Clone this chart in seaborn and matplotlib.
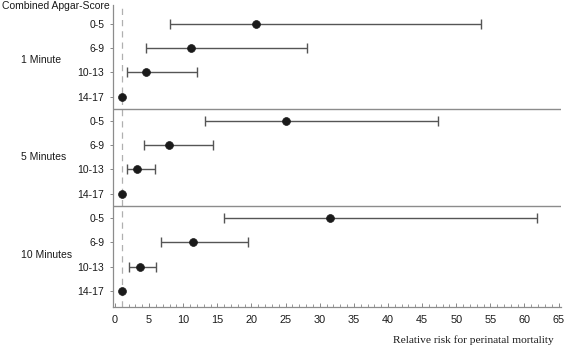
import matplotlib
matplotlib.use("Agg")
import matplotlib.pyplot as plt
import matplotlib.transforms as mtransforms
from matplotlib.ticker import MultipleLocator
import pandas as pd
import seaborn as sns

# Relative risk (point estimate and 95% CI) per Apgar-score group
groups = ["1 Minute", "5 Minutes", "10 Minutes"]
scores = ["0-5", "6-9", "10-13", "14-17"]

rr_1min = [20.6, 11.2, 4.6, 1.0]
lo_1min = [8.0, 4.5, 1.8, 1.0]
hi_1min = [53.7, 28.1, 12.0, 1.0]

rr_5min = [25.0, 7.9, 3.2, 1.0]
lo_5min = [13.2, 4.3, 1.8, 1.0]
hi_5min = [47.3, 14.3, 5.9, 1.0]

rr_10min = [31.5, 11.4, 3.6, 1.0]
lo_10min = [16.0, 6.7, 2.0, 1.0]
hi_10min = [61.9, 19.5, 6.0, 1.0]

rows = []
for g, rr, lo, hi in zip(groups, [rr_1min, rr_5min, rr_10min],
                         [lo_1min, lo_5min, lo_10min],
                         [hi_1min, hi_5min, hi_10min]):
    for s, r, l, h in zip(scores, rr, lo, hi):
        rows.append({"group": g, "score": s, "rr": r, "lo": l, "hi": h})
df = pd.DataFrame(rows)
df["pos"] = range(len(df))

sns.set_style("ticks")
plt.rcParams["font.family"] = ["Liberation Sans", "DejaVu Sans"]

fig = plt.figure(figsize=(5.67, 3.47), dpi=100)
ax = fig.add_axes([0.1998, 0.1153, 0.789, 0.8703])

# confidence intervals (skip the reference category)
ci = df[df["hi"] > df["lo"]]
ax.errorbar(ci["rr"], ci["pos"], xerr=[ci["rr"] - ci["lo"], ci["hi"] - ci["rr"]],
            fmt="none", ecolor="#555555", elinewidth=1.0, capsize=3.5,
            capthick=1.0, zorder=2)

sns.scatterplot(data=df, x="rr", y="pos", color="#1a1a1a", s=32,
                edgecolor="#1a1a1a", linewidth=0.5, zorder=3, ax=ax, legend=False)

# reference line at RR = 1
ax.axvline(1, color="#b0b0b0", linestyle=(0, (5, 4)), linewidth=0.9, zorder=1)

# group separators
for y in [3.5, 7.5]:
    ax.axhline(y, color="#8c8c8c", linewidth=1.0, zorder=1)

ax.set_xlim(-0.25, 65.3)
ax.set_ylim(11.66, -0.77)
ax.set_yticks(df["pos"])
ax.set_yticklabels(df["score"], fontsize=7.5, color="#1a1a1a")
ax.xaxis.set_major_locator(MultipleLocator(5))
ax.xaxis.set_minor_locator(MultipleLocator(1))
ax.tick_params(axis="x", which="major", direction="in", length=3, width=0.7,
               color="#888888", labelsize=7.8, labelcolor="#1a1a1a", pad=6)
ax.tick_params(axis="x", which="minor", direction="in", length=2, width=0.6,
               color="#888888")
ax.tick_params(axis="y", direction="out", length=2.5, width=0.7,
               color="#888888", pad=4)
ax.set_xlabel("")
ax.set_ylabel("")

for side in ["top", "right"]:
    ax.spines[side].set_visible(False)
for side in ["left", "bottom"]:
    ax.spines[side].set_color("#8c8c8c")
    ax.spines[side].set_linewidth(0.9)

# group labels on the left
trans = mtransforms.blended_transform_factory(fig.transFigure, ax.transData)
for i, g in enumerate(groups):
    ax.text(0.037, i * 4 + 1.5, g, transform=trans, ha="left", va="center",
            fontsize=7.5, color="#1a1a1a")

fig.text(0.003, 1 - 6 / 347, "Combined Apgar-Score", ha="left", va="center",
         fontsize=7.5, color="#1a1a1a")
fig.text(0.976, 0.02, "Relative risk for perinatal mortality", ha="right",
         va="center", fontsize=8.2, color="#1a1a1a",
         family=["Liberation Serif", "DejaVu Serif"])

plt.savefig("out.png", dpi=100)
